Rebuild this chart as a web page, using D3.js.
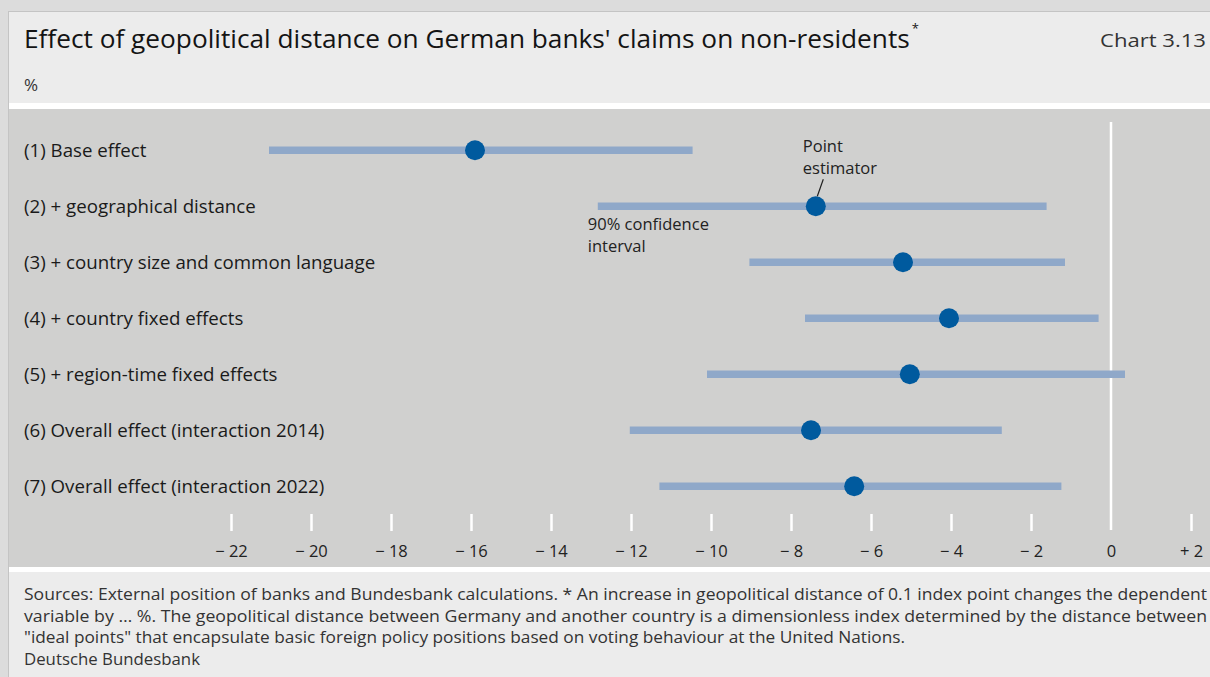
<!DOCTYPE html>
<html>
<head>
<meta charset="utf-8">
<script src="https://cdn.jsdelivr.net/npm/d3@7"></script>
<style>
  html, body { margin: 0; padding: 0; background: #dddddd; }
  svg { display: block; font-family: "Open Sans", "Noto Sans", sans-serif; }
</style>
</head>
<body>
<svg id="chart" width="1210" height="677"></svg>
<script>
// Regression specifications (rows, top to bottom)
const specifications = [
  "(1) Base effect",
  "(2) + geographical distance",
  "(3) + country size and common language",
  "(4) + country fixed effects",
  "(5) + region-time fixed effects",
  "(6) Overall effect (interaction 2014)",
  "(7) Overall effect (interaction 2022)"
];
// Point estimates, %
const pointEstimates = [-15.9, -7.38, -5.2, -4.05, -5.03, -7.5, -6.42];
// 90% confidence interval bounds, %
const lowerBounds = [-21.05, -12.83, -9.04, -7.65, -10.1, -12.03, -11.29];
const upperBounds = [-10.46, -1.61, -1.15, -0.31, 0.35, -2.73, -1.24];
// Axis ticks
const tickValues = [-22, -20, -18, -16, -14, -12, -10, -8, -6, -4, -2, 0, 2];

const title = "Effect of geopolitical distance on German banks' claims on non-residents";
const chartNo = "Chart 3.13";
const unit = "%";
const footnotes = [
  "Sources: External position of banks and Bundesbank calculations. * An increase in geopolitical distance of 0.1 index point changes the dependent",
  "variable by … %. The geopolitical distance between Germany and another country is a dimensionless index determined by the distance between",
  "\"ideal points\" that encapsulate basic foreign policy positions based on voting behaviour at the United Nations."
];
const publisher = "Deutsche Bundesbank";

const rows = specifications.map((label, i) => ({
  label, est: pointEstimates[i], lo: lowerBounds[i], hi: upperBounds[i]
}));

const svg = d3.select("#chart");
const W = 1210, H = 677;

// ---- panels ----
svg.append("rect").attr("x", 0).attr("y", 0).attr("width", W).attr("height", H).attr("fill", "#dcdcdc");
svg.append("line").attr("x1", 8.5).attr("x2", 8.5).attr("y1", 11).attr("y2", H).attr("stroke", "#c4c4c4");
svg.append("line").attr("x1", 8).attr("x2", W).attr("y1", 11.5).attr("y2", 11.5).attr("stroke", "#c4c4c4");
svg.append("rect").attr("x", 9).attr("y", 12).attr("width", W - 9).attr("height", 91).attr("fill", "#ececec");
svg.append("rect").attr("x", 9).attr("y", 103).attr("width", W - 9).attr("height", 6).attr("fill", "#ffffff");
svg.append("rect").attr("x", 9).attr("y", 109).attr("width", W - 9).attr("height", 458).attr("fill", "#d0d0cf");
svg.append("rect").attr("x", 9).attr("y", 567).attr("width", W - 9).attr("height", 5).attr("fill", "#ffffff");
svg.append("rect").attr("x", 9).attr("y", 572).attr("width", W - 9).attr("height", H - 572).attr("fill", "#ececec");

// ---- header ----
// title is sized so that it spans a fixed width, with the footnote mark right after it
const titleWidth = 886;
const titleEl = svg.append("text").attr("x", 24).attr("y", 48)
  .attr("font-size", 27).attr("fill", "#141414")
  .text(title);
const natural = titleEl.node().getComputedTextLength();
titleEl.attr("font-size", 27 * titleWidth / natural);
const titleEnd = 24 + titleEl.node().getComputedTextLength();
svg.append("text").attr("x", titleEnd + 2).attr("y", 33).attr("font-size", 13).attr("fill", "#141414").text("*");
svg.append("text").attr("x", 1206).attr("y", 47).attr("text-anchor", "end")
  .attr("font-size", 18.5).attr("fill", "#333")
  .attr("textLength", 106).attr("lengthAdjust", "spacingAndGlyphs")
  .text(chartNo);
svg.append("text").attr("x", 24).attr("y", 91).attr("font-size", 17).attr("fill", "#333").text(unit);

// ---- scales ----
const x = d3.scaleLinear().domain([-22, 2]).range([231, 1191]);
const y = d3.scalePoint().domain(specifications).range([150.3, 486.3]);

// zero line
svg.append("line")
  .attr("x1", x(0)).attr("x2", x(0)).attr("y1", 122).attr("y2", 530)
  .attr("stroke", "#ffffff").attr("stroke-width", 2.5);

// axis
const fmt = v => v < 0 ? "\u2212 " + Math.abs(v) : v > 0 ? "+ " + v : "0";
const axis = svg.append("g").attr("transform", "translate(0,514)")
  .call(d3.axisBottom(x).tickValues(tickValues).tickFormat(fmt).tickSize(17).tickPadding(11));
axis.select(".domain").remove();
axis.selectAll(".tick line").attr("stroke", "#ffffff").attr("stroke-width", 2.5)
  .filter(d => d === 0).remove();
axis.selectAll(".tick text").attr("font-size", 16.5).attr("fill", "#222")
  .attr("font-family", "\"Open Sans\", sans-serif").attr("dy", "0.9em");

// row labels
svg.append("g").selectAll("text").data(rows).join("text")
  .attr("x", 24).attr("y", d => y(d.label)).attr("dy", "0.36em")
  .attr("font-size", 18.7).attr("fill", "#1a1a1a")
  .text(d => d.label);

// confidence intervals
svg.append("g").selectAll("line").data(rows).join("line")
  .attr("x1", d => x(d.lo)).attr("x2", d => x(d.hi))
  .attr("y1", d => y(d.label)).attr("y2", d => y(d.label))
  .attr("stroke", "#8fa8c9").attr("stroke-width", 7.5);

// point estimates
svg.append("g").selectAll("circle").data(rows).join("circle")
  .attr("cx", d => x(d.est)).attr("cy", d => y(d.label)).attr("r", 10)
  .attr("fill", "#005a9e");

// annotations on row (2)
const r2 = rows[1];
const ann = svg.append("g").attr("font-size", 16.5).attr("fill", "#222");
ann.append("text").attr("x", x(r2.est) - 13).attr("y", y(r2.label) - 54).text("Point");
ann.append("text").attr("x", x(r2.est) - 13).attr("y", y(r2.label) - 32.5).text("estimator");
svg.append("line")
  .attr("x1", x(r2.est) + 7.5).attr("y1", y(r2.label) - 27)
  .attr("x2", x(r2.est) + 1.5).attr("y2", y(r2.label) - 10)
  .attr("stroke", "#222").attr("stroke-width", 1.2);
ann.append("text").attr("x", x(r2.lo) - 10).attr("y", y(r2.label) + 24).text("90% confidence");
ann.append("text").attr("x", x(r2.lo) - 10).attr("y", y(r2.label) + 45.5).text("interval");

// ---- footer ----
const foot = svg.append("g").attr("font-size", 15.5).attr("fill", "#333");
const footW = [1183, 1183, 881];
footnotes.forEach((line, i) => {
  foot.append("text").attr("x", 24).attr("y", 600 + i * 21.5)
    .attr("textLength", footW[i]).attr("lengthAdjust", "spacingAndGlyphs")
    .text(line);
});
foot.append("text").attr("x", 24).attr("y", 665)
  .attr("textLength", 176).attr("lengthAdjust", "spacingAndGlyphs")
  .text(publisher);
</script>
</body>
</html>
